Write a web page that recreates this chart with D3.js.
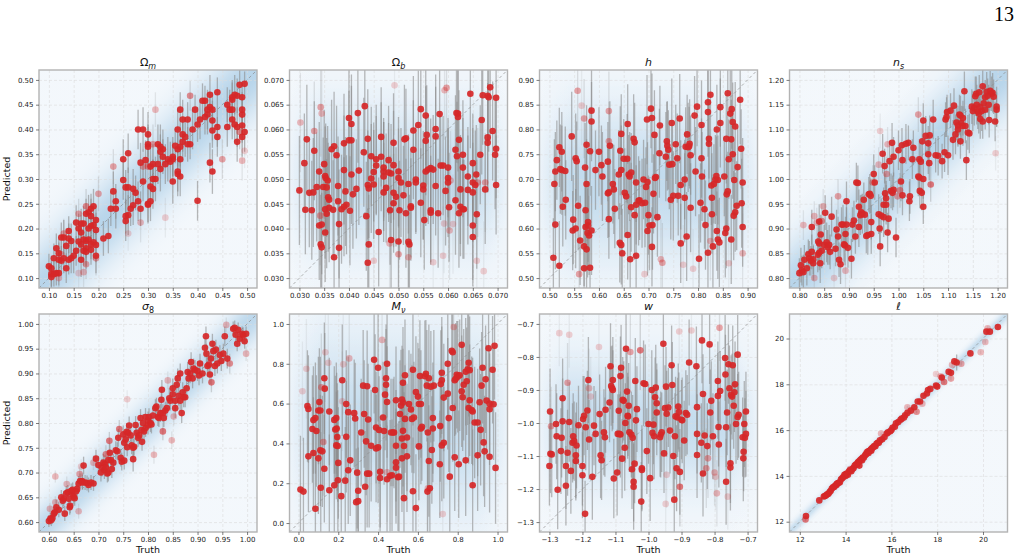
<!DOCTYPE html>
<html>
<head>
<meta charset="utf-8">
<script src="https://cdn.jsdelivr.net/npm/d3@7"></script>
<style>
  body { margin: 0; background: #fff; }
  svg { display: block; font-family: "DejaVu Sans", sans-serif; }
</style>
</head>
<body>
<div id="chart"></div>
<script>
// each point: [truth, predicted, error, alpha(optional)]
const omegaM = [
  [0.485,0.49,0.03],[0.495,0.492,0.025],[0.475,0.47,0.04],[0.48,0.468,0.035],[0.49,0.465,0.03],[0.47,0.46,0.04],[0.44,0.475,0.03],[0.425,0.47,0.04],[0.41,0.458,0.035],[0.415,0.458,0.03],
  [0.42,0.44,0.04],[0.43,0.44,0.035],[0.425,0.445,0.03],[0.42,0.43,0.04],[0.415,0.425,0.035],[0.405,0.42,0.04],[0.40,0.41,0.035],[0.39,0.40,0.04],[0.395,0.44,0.03],[0.365,0.44,0.035],
  [0.385,0.468,0.03,0.5],[0.37,0.42,0.04],[0.38,0.42,0.035],[0.36,0.40,0.04],[0.37,0.39,0.035],[0.375,0.385,0.04],[0.38,0.37,0.035],[0.385,0.37,0.03],[0.37,0.375,0.04],[0.36,0.36,0.035],
  [0.365,0.365,0.04],[0.355,0.367,0.035],[0.365,0.34,0.04],[0.36,0.31,0.045],[0.365,0.305,0.04],[0.36,0.315,0.04],[0.35,0.345,0.04],[0.35,0.34,0.035],[0.345,0.335,0.04],[0.34,0.34,0.045],
  [0.335,0.33,0.04],[0.33,0.345,0.035],[0.33,0.36,0.04],[0.325,0.365,0.045],[0.32,0.37,0.04],[0.325,0.355,0.035],[0.32,0.33,0.04],[0.325,0.32,0.045],[0.31,0.33,0.04],[0.305,0.325,0.04],
  [0.30,0.325,0.035,0.5],[0.31,0.30,0.04],[0.315,0.30,0.045],[0.31,0.28,0.04],[0.305,0.285,0.04],[0.30,0.39,0.045],[0.30,0.37,0.04],[0.30,0.365,0.04],[0.29,0.40,0.045],[0.28,0.40,0.04],
  [0.31,0.37,0.04,0.4],[0.315,0.44,0.035,0.3],[0.30,0.25,0.04],[0.305,0.255,0.04],[0.30,0.248,0.035],[0.35,0.295,0.045],[0.40,0.256,0.04],[0.425,0.333,0.04],[0.43,0.315,0.045],[0.44,0.385,0.04],
  [0.44,0.405,0.04],[0.43,0.398,0.035],[0.43,0.418,0.04],[0.46,0.45,0.035],[0.465,0.44,0.04],[0.47,0.44,0.035],[0.46,0.405,0.04],[0.47,0.42,0.04],[0.475,0.41,0.035],[0.48,0.405,0.04],
  [0.49,0.408,0.035],[0.49,0.43,0.04],[0.49,0.44,0.035],[0.495,0.395,0.04],[0.485,0.395,0.035,0.5],[0.49,0.385,0.04],[0.48,0.375,0.04],[0.45,0.34,0.04,0.4],[0.49,0.337,0.04,0.3],[0.495,0.357,0.035,0.2],
  [0.47,0.465,0.03],[0.25,0.34,0.04],[0.26,0.352,0.04],[0.25,0.298,0.04],[0.255,0.283,0.035],[0.26,0.283,0.04],[0.27,0.28,0.04],[0.275,0.272,0.035],[0.285,0.333,0.04],[0.28,0.255,0.04],
  [0.285,0.24,0.035],[0.27,0.247,0.04],[0.265,0.24,0.035],[0.26,0.227,0.04],[0.255,0.225,0.035],[0.255,0.215,0.04],[0.23,0.275,0.04],[0.235,0.255,0.035],[0.235,0.24,0.04],[0.225,0.24,0.035],
  [0.23,0.325,0.035,0.4],[0.285,0.212,0.04,0.3],[0.26,0.19,0.035,0.2],[0.335,0.222,0.04,0.2],[0.21,0.18,0.035],[0.22,0.185,0.035],[0.295,0.338,0.04],[0.29,0.295,0.04],[0.29,0.325,0.035,0.4],
  [0.20,0.27,0.035,0.4],[0.19,0.245,0.035],[0.185,0.24,0.03],[0.175,0.245,0.035,0.5],[0.18,0.233,0.035],[0.175,0.23,0.03],[0.185,0.225,0.035],[0.195,0.217,0.03],[0.195,0.197,0.035],[0.19,0.207,0.03],
  [0.185,0.205,0.035],[0.18,0.2,0.03],[0.17,0.21,0.035],[0.165,0.21,0.03],[0.155,0.212,0.035],[0.16,0.2,0.03],[0.165,0.192,0.035],[0.17,0.178,0.03],[0.175,0.175,0.035],[0.18,0.178,0.03],
  [0.19,0.172,0.035],[0.185,0.168,0.03],[0.195,0.167,0.035],[0.185,0.157,0.03],[0.175,0.16,0.035],[0.165,0.168,0.03],[0.16,0.174,0.035],[0.155,0.155,0.03],[0.15,0.145,0.035],[0.14,0.18,0.03],
  [0.145,0.175,0.035],[0.14,0.195,0.03],[0.13,0.182,0.035],[0.125,0.182,0.03],[0.135,0.165,0.035],[0.13,0.14,0.03],[0.125,0.135,0.03],[0.12,0.137,0.035],[0.115,0.16,0.03],[0.12,0.15,0.03],
  [0.11,0.14,0.03],[0.105,0.12,0.025],[0.1,0.124,0.025],[0.105,0.108,0.025],[0.11,0.108,0.025],[0.115,0.11,0.025],[0.12,0.11,0.025],[0.105,0.102,0.025],[0.135,0.12,0.03],[0.14,0.137,0.03],
  [0.145,0.14,0.03],[0.165,0.137,0.035],[0.17,0.155,0.03],[0.175,0.153,0.035],[0.195,0.145,0.035],[0.195,0.14,0.035,0.4],[0.175,0.128,0.03,0.4],[0.17,0.112,0.03,0.3],[0.16,0.11,0.03,0.2],[0.12,0.10,0.025,0.3],
  [0.125,0.148,0.03,0.4],[0.16,0.23,0.03,0.4],[0.13,0.19,0.03,0.4]
];

const omegaB = [
  [0.030,0.0477,0.011],[0.031,0.0532,0.010],[0.0315,0.058,0.011],[0.0312,0.0438,0.009],[0.032,0.0472,0.011],[0.0325,0.0437,0.010],[0.0328,0.0473,0.011],[0.033,0.0557,0.010],[0.033,0.0597,0.010,0.4],[0.0302,0.0614,0.010,0.3],
  [0.0335,0.0484,0.011],[0.034,0.0515,0.010],[0.034,0.0406,0.011],[0.0345,0.0408,0.010],[0.0343,0.0645,0.010,0.4],[0.0345,0.0632,0.010,0.3],[0.0342,0.0426,0.010,0.4],[0.0343,0.0368,0.010],[0.0345,0.0362,0.011],[0.0348,0.0484,0.010],
  [0.035,0.053,0.011],[0.0352,0.0506,0.010],[0.0353,0.0502,0.011],[0.0355,0.0483,0.010],[0.0357,0.0497,0.011],[0.0352,0.0439,0.010],[0.0355,0.043,0.011],[0.0352,0.0392,0.010],[0.0358,0.0463,0.011],[0.036,0.0458,0.010],
  [0.036,0.0442,0.011],[0.0365,0.056,0.010],[0.037,0.0566,0.011],[0.0368,0.0438,0.010],[0.037,0.0342,0.011],[0.0375,0.0548,0.010],[0.0378,0.0455,0.011],[0.0378,0.0486,0.010],[0.038,0.0409,0.011],[0.038,0.0361,0.010],
  [0.0385,0.0439,0.011],[0.039,0.0572,0.010],[0.039,0.0518,0.011],[0.039,0.0444,0.010],[0.0393,0.0475,0.011],[0.0395,0.0448,0.010],[0.040,0.0623,0.011],[0.040,0.0578,0.010],[0.0405,0.0578,0.011],[0.0405,0.0611,0.010],
  [0.0402,0.0436,0.011],[0.0405,0.0509,0.010],[0.0408,0.0469,0.011],[0.0418,0.0633,0.010],[0.042,0.0517,0.011],[0.0415,0.048,0.010],[0.043,0.0554,0.011],[0.0432,0.0647,0.010],[0.0435,0.0425,0.011],[0.0438,0.0581,0.010],
  [0.0438,0.0488,0.011],[0.044,0.0481,0.010],[0.0438,0.0331,0.011],[0.044,0.0368,0.010],[0.0445,0.0501,0.011],[0.0445,0.0546,0.010],[0.045,0.0489,0.011],[0.045,0.0514,0.010],[0.045,0.0335,0.010,0.2],[0.0455,0.054,0.011],
  [0.0455,0.0527,0.010],[0.046,0.0393,0.011],[0.0465,0.0585,0.010],[0.0465,0.0545,0.011],[0.047,0.0515,0.010],[0.047,0.0505,0.011],[0.047,0.0473,0.010],[0.0475,0.0482,0.011],[0.047,0.0523,0.010],[0.048,0.0538,0.011],
  [0.048,0.0513,0.010],[0.0483,0.0437,0.011],[0.0482,0.037,0.010,0.3],[0.0485,0.0511,0.010],[0.0485,0.0377,0.011],[0.049,0.0573,0.010],[0.049,0.0528,0.011],[0.049,0.0451,0.010],[0.049,0.0472,0.011],[0.0492,0.0689,0.010,0.2],
  [0.0495,0.0464,0.010],[0.050,0.0515,0.011],[0.050,0.0502,0.010],[0.050,0.0374,0.011],[0.0502,0.0437,0.010],[0.050,0.0348,0.010,0.4],[0.0505,0.0493,0.011],[0.051,0.0467,0.010],[0.0512,0.058,0.011],[0.0515,0.0582,0.010],
  [0.0515,0.0431,0.011],[0.052,0.049,0.010],[0.052,0.0373,0.011],[0.0522,0.0368,0.010],[0.052,0.0342,0.010,0.3],[0.0525,0.0445,0.011],[0.0525,0.0442,0.010],[0.053,0.0598,0.011],[0.053,0.0559,0.010],[0.0535,0.0499,0.011],
  [0.0535,0.0493,0.010],[0.054,0.0609,0.011],[0.0545,0.0641,0.010],[0.0545,0.0452,0.011],[0.055,0.0479,0.010],[0.055,0.0487,0.011],[0.0555,0.0628,0.010],[0.0555,0.0577,0.011],[0.0557,0.0589,0.010],[0.0555,0.0515,0.011],
  [0.0552,0.0417,0.010],[0.056,0.0519,0.011],[0.0565,0.0522,0.010],[0.0565,0.0437,0.011],[0.0565,0.0432,0.010],[0.057,0.0519,0.011],[0.057,0.0332,0.010,0.2],[0.0575,0.0586,0.010],[0.0575,0.0601,0.011],[0.0575,0.0486,0.010],
  [0.058,0.0431,0.011],[0.0583,0.0631,0.010],[0.0585,0.0527,0.011],[0.059,0.0527,0.010],[0.059,0.0345,0.010,0.2],[0.0592,0.041,0.010,0.2],[0.0593,0.0679,0.010,0.3],[0.0597,0.0684,0.010,0.4],[0.0595,0.0476,0.011],[0.060,0.0502,0.010],
  [0.060,0.0493,0.011],[0.060,0.0523,0.010],[0.0602,0.0443,0.011],[0.0605,0.0497,0.010,0.3],[0.0603,0.0396,0.010,0.3],[0.061,0.0409,0.010,0.2],[0.0615,0.0559,0.011],[0.0617,0.0633,0.010],[0.0618,0.0546,0.011],[0.062,0.0632,0.010],
  [0.062,0.0625,0.011],[0.0622,0.0579,0.010],[0.0622,0.0431,0.011],[0.0625,0.0444,0.010],[0.0625,0.0479,0.011],[0.063,0.0523,0.010],[0.063,0.0549,0.011],[0.063,0.0439,0.010],[0.0615,0.0457,0.011],[0.0632,0.0439,0.010],
  [0.064,0.0478,0.011],[0.064,0.0505,0.010],[0.0645,0.0672,0.011],[0.065,0.0532,0.010],[0.065,0.0493,0.011],[0.065,0.0473,0.010],[0.065,0.0406,0.011],[0.065,0.0383,0.010],[0.0655,0.0488,0.011],[0.0657,0.0509,0.010],
  [0.0658,0.0429,0.011],[0.0658,0.0335,0.010,0.2],[0.066,0.0493,0.011,0.4],[0.0665,0.0549,0.010],[0.0668,0.0619,0.011],[0.067,0.0669,0.010],[0.0672,0.0314,0.010,0.2],[0.0675,0.0479,0.011],[0.0675,0.0493,0.010,0.4],[0.068,0.0584,0.011],
  [0.068,0.0573,0.010],[0.0682,0.0665,0.011],[0.068,0.0668,0.010],[0.0685,0.0685,0.011],[0.069,0.0597,0.010],[0.0695,0.0549,0.011],[0.0697,0.0561,0.010],[0.0697,0.0664,0.011],[0.0697,0.0488,0.010]
];

const hubble = [
  [0.508,0.541,0.08],[0.51,0.69,0.09],[0.512,0.715,0.08],[0.512,0.608,0.09],[0.515,0.738,0.08],[0.52,0.525,0.09],[0.52,0.764,0.08],[0.522,0.72,0.09],[0.525,0.755,0.08],[0.525,0.718,0.09],
  [0.527,0.644,0.08],[0.532,0.716,0.09],[0.533,0.658,0.08],[0.545,0.786,0.09],[0.547,0.596,0.08],[0.548,0.618,0.09],[0.553,0.6,0.08],[0.553,0.742,0.09],[0.555,0.736,0.08],[0.557,0.878,0.08,0.4],
  [0.558,0.646,0.09],[0.56,0.508,0.08,0.4],[0.562,0.576,0.09],[0.565,0.848,0.08,0.2],[0.57,0.822,0.08,0.4],[0.57,0.52,0.09],[0.57,0.564,0.08],[0.572,0.723,0.09],[0.573,0.637,0.08],[0.573,0.603,0.09],
  [0.575,0.769,0.08],[0.575,0.69,0.09],[0.575,0.558,0.08],[0.577,0.591,0.09],[0.578,0.613,0.08],[0.578,0.606,0.09],[0.58,0.586,0.08],[0.582,0.756,0.09],[0.582,0.521,0.08],[0.585,0.838,0.09],
  [0.585,0.816,0.08],[0.585,0.596,0.09],[0.593,0.718,0.08],[0.6,0.755,0.09],[0.605,0.728,0.08],[0.607,0.705,0.09],[0.618,0.735,0.08],[0.618,0.671,0.09],[0.62,0.837,0.08,0.4],[0.62,0.776,0.08,0.4],
  [0.62,0.673,0.09],[0.62,0.619,0.08],[0.622,0.767,0.09],[0.628,0.69,0.08],[0.63,0.679,0.09],[0.632,0.64,0.08],[0.64,0.709,0.09],[0.642,0.571,0.08],[0.643,0.757,0.09],[0.645,0.567,0.08],
  [0.645,0.718,0.09],[0.645,0.791,0.08],[0.647,0.55,0.09],[0.65,0.741,0.08],[0.652,0.672,0.09],[0.655,0.665,0.08],[0.657,0.741,0.09],[0.658,0.811,0.08],[0.658,0.587,0.09],[0.66,0.709,0.08],
  [0.662,0.705,0.09],[0.663,0.538,0.08],[0.665,0.643,0.09],[0.665,0.713,0.08],[0.67,0.781,0.09],[0.672,0.774,0.08],[0.672,0.627,0.09],[0.675,0.648,0.08],[0.675,0.545,0.09],[0.675,0.693,0.08],
  [0.68,0.656,0.09],[0.682,0.657,0.08],[0.687,0.651,0.09],[0.69,0.699,0.08],[0.692,0.508,0.08,0.2],[0.693,0.652,0.09],[0.695,0.684,0.08],[0.697,0.82,0.09],[0.698,0.694,0.08],[0.698,0.595,0.09],
  [0.7,0.627,0.08],[0.702,0.606,0.09],[0.705,0.842,0.08],[0.707,0.823,0.09],[0.707,0.563,0.08],[0.708,0.607,0.09],[0.71,0.67,0.08],[0.712,0.789,0.09],[0.713,0.702,0.08],[0.715,0.704,0.09],
  [0.718,0.623,0.08],[0.722,0.752,0.09],[0.723,0.808,0.08],[0.725,0.538,0.08,0.3],[0.728,0.531,0.08,0.4],[0.735,0.745,0.09],[0.737,0.776,0.08],[0.738,0.767,0.09],[0.74,0.759,0.08],[0.742,0.729,0.09],
  [0.745,0.658,0.08],[0.747,0.813,0.09],[0.748,0.73,0.08],[0.75,0.666,0.09],[0.755,0.77,0.08],[0.758,0.742,0.09],[0.76,0.666,0.08],[0.763,0.822,0.09],[0.765,0.57,0.08],[0.765,0.688,0.09],
  [0.77,0.527,0.08,0.2],[0.773,0.699,0.08],[0.773,0.662,0.09],[0.775,0.765,0.08],[0.777,0.584,0.09],[0.778,0.79,0.08],[0.78,0.764,0.09],[0.782,0.766,0.08],[0.783,0.771,0.09],[0.785,0.748,0.08],
  [0.785,0.642,0.09],[0.79,0.519,0.08,0.2],[0.793,0.828,0.08],[0.795,0.715,0.09],[0.798,0.846,0.08],[0.802,0.539,0.09],[0.805,0.652,0.08],[0.807,0.809,0.09],[0.807,0.742,0.08],[0.808,0.705,0.09],
  [0.813,0.639,0.08],[0.815,0.607,0.09],[0.82,0.551,0.08],[0.82,0.835,0.09],[0.82,0.855,0.08],[0.822,0.771,0.09],[0.822,0.781,0.08],[0.825,0.87,0.09],[0.825,0.575,0.08,0.3],[0.827,0.687,0.08],
  [0.828,0.662,0.09],[0.828,0.629,0.08],[0.83,0.564,0.09],[0.832,0.69,0.08],[0.835,0.699,0.09],[0.837,0.706,0.08],[0.838,0.8,0.09],[0.838,0.595,0.08],[0.84,0.698,0.09],[0.84,0.578,0.08],
  [0.843,0.572,0.09],[0.845,0.845,0.08],[0.845,0.813,0.09],[0.853,0.705,0.08],[0.855,0.591,0.09],[0.857,0.6,0.08],[0.857,0.781,0.09],[0.858,0.669,0.08],[0.86,0.873,0.09],[0.86,0.675,0.08],
  [0.862,0.53,0.08,0.2],[0.862,0.74,0.08],[0.865,0.832,0.09],[0.867,0.78,0.08],[0.867,0.578,0.09],[0.868,0.841,0.08],[0.87,0.75,0.09],[0.87,0.815,0.08],[0.872,0.626,0.09],[0.873,0.698,0.08],
  [0.875,0.806,0.09],[0.875,0.633,0.08],[0.878,0.646,0.09],[0.88,0.724,0.08],[0.885,0.86,0.09],[0.887,0.761,0.08],[0.888,0.651,0.09],[0.89,0.603,0.08],[0.89,0.693,0.09],[0.89,0.55,0.08,0.3]
];

const nS = [
  [0.80,0.81,0.03],[0.803,0.826,0.035],[0.805,0.815,0.03],[0.808,0.812,0.035],[0.81,0.837,0.03],[0.815,0.82,0.035],[0.818,0.848,0.03],[0.82,0.84,0.035],[0.823,0.835,0.03],[0.825,0.853,0.035],
  [0.828,0.838,0.03],[0.828,0.83,0.035],[0.825,0.903,0.035],[0.808,0.907,0.03,0.3],[0.83,0.925,0.03,0.3],[0.835,0.912,0.03,0.3],[0.83,0.8,0.03,0.3],[0.837,0.847,0.035],[0.838,0.874,0.04],[0.84,0.851,0.035],
  [0.84,0.87,0.04],[0.84,0.914,0.035],[0.843,0.888,0.04],[0.845,0.855,0.035],[0.842,0.83,0.04],[0.845,0.915,0.035,0.5],[0.848,0.945,0.035,0.3],[0.85,0.867,0.04],[0.852,0.932,0.035],[0.855,0.872,0.04],
  [0.857,0.862,0.035],[0.86,0.867,0.04],[0.862,0.853,0.035],[0.865,0.924,0.04],[0.87,0.8,0.03,0.2],[0.873,0.859,0.035],[0.875,0.898,0.04],[0.878,0.965,0.035,0.4],[0.878,0.884,0.04],[0.88,0.837,0.035],
  [0.883,0.828,0.04],[0.885,0.908,0.035],[0.888,0.908,0.04],[0.89,0.868,0.035],[0.892,0.866,0.04],[0.893,0.889,0.035],[0.895,0.955,0.04],[0.895,0.908,0.035],[0.898,0.861,0.04],[0.893,0.815,0.035,0.3],
  [0.905,0.839,0.04],[0.907,0.908,0.035],[0.91,0.916,0.04],[0.913,0.884,0.035],[0.915,0.993,0.04],[0.918,0.992,0.035],[0.92,0.903,0.04],[0.92,0.944,0.035],[0.923,0.927,0.04],[0.925,0.933,0.035],
  [0.927,0.93,0.04],[0.93,0.958,0.035],[0.932,0.928,0.04],[0.935,0.885,0.035],[0.938,0.887,0.04],[0.94,0.969,0.035],[0.942,0.97,0.04],[0.944,0.966,0.035],[0.945,0.889,0.04],[0.945,0.913,0.035],
  [0.948,0.993,0.035,0.4],[0.95,1.01,0.04],[0.952,0.993,0.035],[0.96,1.029,0.035,0.3],[0.96,0.929,0.04],[0.962,0.9,0.035],[0.963,0.864,0.04],[0.965,0.926,0.035],[0.963,1.097,0.035,0.2],[0.968,1.051,0.04],
  [0.97,0.948,0.035],[0.97,0.923,0.04],[0.972,1.026,0.035],[0.973,0.971,0.04],[0.975,0.961,0.035],[0.975,0.948,0.04],[0.976,1.01,0.035,0.4],[0.978,0.892,0.04],[0.978,1.07,0.035,0.3],[0.98,0.92,0.035],
  [0.982,1.036,0.04],[0.985,0.976,0.035],[0.987,1.073,0.04],[0.988,0.972,0.035],[0.99,1.045,0.04],[0.99,0.978,0.035],[0.995,0.882,0.04],[0.998,0.965,0.035,0.4],[1.0,1.058,0.04],[1.003,0.977,0.035,0.5],
  [1.005,0.995,0.04],[1.007,1.068,0.035],[1.008,0.967,0.04],[1.008,1.038,0.035],[1.015,1.071,0.04],[1.02,1.073,0.035],[1.022,0.955,0.04],[1.023,0.965,0.035],[1.028,1.04,0.04],[1.03,1.063,0.035],
  [1.04,1.13,0.035,0.4],[1.04,1.005,0.04],[1.042,1.003,0.035],[1.042,1.04,0.04],[1.043,0.976,0.035],[1.045,1.035,0.04],[1.047,0.972,0.035],[1.048,1.076,0.04],[1.05,1.118,0.035],[1.05,1.0,0.04],
  [1.05,0.944,0.035],[1.055,1.087,0.04],[1.06,1.072,0.035],[1.06,1.05,0.04],[1.062,1.032,0.035],[1.063,1.088,0.04],[1.065,0.989,0.035,0.6],[1.07,1.12,0.04],[1.075,1.048,0.035],[1.08,1.047,0.04],
  [1.088,1.036,0.035],[1.093,1.054,0.04],[1.095,1.12,0.035],[1.097,1.125,0.04],[1.098,1.135,0.035],[1.1,1.048,0.04],[1.105,1.138,0.035],[1.11,1.079,0.04],[1.112,1.148,0.035],[1.115,1.09,0.04],
  [1.117,1.114,0.035],[1.12,1.108,0.04],[1.12,1.1,0.035],[1.123,1.13,0.04],[1.125,1.076,0.035],[1.125,1.128,0.04],[1.127,1.113,0.035],[1.13,1.107,0.04],[1.13,1.123,0.035],[1.133,1.177,0.04],
  [1.135,1.107,0.035],[1.137,1.038,0.04],[1.14,1.094,0.035],[1.143,1.092,0.04],[1.148,1.146,0.035],[1.15,1.137,0.04],[1.153,1.143,0.035],[1.155,1.167,0.04],[1.157,1.172,0.035],[1.158,1.15,0.04],
  [1.16,1.136,0.035],[1.162,1.132,0.04],[1.163,1.175,0.035],[1.165,1.121,0.04],[1.165,1.145,0.035],[1.168,1.137,0.04],[1.17,1.116,0.035],[1.17,1.187,0.04],[1.172,1.153,0.035],[1.175,1.14,0.04],
  [1.175,1.165,0.035],[1.178,1.176,0.04],[1.18,1.168,0.035],[1.182,1.15,0.04],[1.183,1.119,0.035],[1.185,1.178,0.04],[1.188,1.172,0.035],[1.19,1.174,0.04],[1.192,1.166,0.035],[1.195,1.116,0.04],
  [1.196,1.052,0.035,0.2],[1.198,1.146,0.04],[1.198,1.14,0.035]
];

const sigma8 = [
  [0.60,0.602,0.012],[0.603,0.607,0.012],[0.605,0.604,0.012],[0.607,0.608,0.012],[0.602,0.627,0.012,0.3],[0.61,0.617,0.012],[0.612,0.62,0.012],[0.613,0.64,0.012,0.3],[0.613,0.692,0.012,0.3],[0.615,0.63,0.015],
  [0.62,0.625,0.015],[0.625,0.65,0.015],[0.628,0.643,0.015],[0.63,0.647,0.015],[0.632,0.617,0.015],[0.635,0.658,0.015],[0.636,0.677,0.015,0.3],[0.638,0.66,0.015],[0.64,0.647,0.015],[0.642,0.63,0.015],
  [0.643,0.633,0.015],[0.645,0.663,0.015],[0.647,0.657,0.015],[0.648,0.665,0.015],[0.65,0.651,0.015],[0.652,0.648,0.015],[0.655,0.662,0.015],[0.657,0.667,0.015],[0.66,0.678,0.015],[0.66,0.622,0.015,0.3],
  [0.662,0.697,0.015,0.4],[0.663,0.683,0.015],[0.665,0.712,0.015,0.2],[0.667,0.683,0.015],[0.668,0.68,0.015],[0.67,0.714,0.018],[0.673,0.68,0.015],[0.677,0.679,0.015],[0.68,0.675,0.015],[0.685,0.68,0.015],
  [0.69,0.678,0.015],[0.69,0.72,0.015,0.3],[0.695,0.728,0.018],[0.7,0.715,0.018],[0.705,0.7,0.018],[0.707,0.71,0.018],[0.71,0.72,0.018],[0.712,0.705,0.018],[0.713,0.717,0.018],[0.715,0.737,0.018,0.5],
  [0.715,0.71,0.018],[0.718,0.698,0.018],[0.72,0.7,0.018],[0.72,0.725,0.018],[0.722,0.764,0.018,0.6],[0.723,0.74,0.018],[0.725,0.725,0.018],[0.727,0.707,0.018],[0.73,0.72,0.018],[0.735,0.745,0.018],
  [0.738,0.743,0.018],[0.74,0.77,0.018],[0.742,0.788,0.018,0.6],[0.745,0.73,0.018],[0.747,0.722,0.018],[0.75,0.777,0.018],[0.752,0.76,0.018],[0.752,0.724,0.018],[0.755,0.767,0.018],[0.757,0.782,0.018],
  [0.758,0.848,0.018,0.2],[0.758,0.751,0.018],[0.76,0.78,0.018],[0.762,0.795,0.018],[0.765,0.775,0.018],[0.767,0.755,0.018],[0.77,0.75,0.018],[0.77,0.727,0.025],[0.772,0.752,0.018],[0.775,0.796,0.018],
  [0.777,0.78,0.018],[0.78,0.77,0.018],[0.782,0.775,0.018],[0.785,0.81,0.018],[0.787,0.786,0.018],[0.788,0.762,0.018],[0.79,0.8,0.018],[0.792,0.783,0.018],[0.795,0.812,0.018],[0.795,0.79,0.018],
  [0.8,0.805,0.018],[0.8,0.795,0.018],[0.802,0.812,0.018],[0.805,0.8,0.018],[0.807,0.797,0.018],[0.81,0.815,0.018],[0.812,0.736,0.018,0.3],[0.815,0.83,0.018],[0.817,0.833,0.018],[0.82,0.812,0.018],
  [0.822,0.81,0.018],[0.825,0.82,0.018],[0.827,0.847,0.018],[0.828,0.867,0.02],[0.83,0.82,0.018],[0.83,0.783,0.018,0.6],[0.832,0.81,0.018],[0.835,0.825,0.018],[0.838,0.83,0.018],[0.84,0.886,0.018,0.3],
  [0.843,0.85,0.02],[0.845,0.845,0.02],[0.848,0.765,0.018,0.3],[0.85,0.87,0.02],[0.85,0.858,0.02],[0.852,0.813,0.018,0.3],[0.855,0.845,0.02],[0.855,0.83,0.02],[0.858,0.877,0.02],[0.86,0.89,0.02],
  [0.862,0.855,0.02],[0.865,0.845,0.02],[0.865,0.9,0.02],[0.868,0.82,0.02],[0.87,0.862,0.02],[0.872,0.852,0.02],[0.875,0.852,0.02],[0.878,0.87,0.02],[0.88,0.903,0.02],[0.882,0.89,0.02],
  [0.885,0.9,0.02],[0.887,0.923,0.02],[0.89,0.89,0.02],[0.892,0.91,0.02],[0.895,0.907,0.02],[0.9,0.905,0.02],[0.903,0.896,0.02],[0.905,0.92,0.02],[0.91,0.9,0.02],[0.915,0.952,0.02],
  [0.917,0.975,0.02],[0.918,0.94,0.02],[0.92,0.915,0.02],[0.923,0.918,0.02],[0.925,0.898,0.02],[0.927,0.93,0.02],[0.928,0.882,0.02,0.6],[0.93,0.96,0.02],[0.932,0.945,0.02],[0.935,0.915,0.02],
  [0.937,0.948,0.02],[0.94,0.92,0.02],[0.945,0.937,0.02],[0.948,0.925,0.02],[0.952,0.94,0.02],[0.955,0.975,0.02],[0.958,0.998,0.015,0.3],[0.96,0.93,0.02],[0.965,0.92,0.02,0.5],[0.972,0.99,0.015],
  [0.975,0.992,0.015],[0.977,0.978,0.015],[0.98,0.96,0.015],[0.982,0.988,0.015],[0.985,0.97,0.015],[0.99,0.98,0.015],[0.992,0.977,0.015],[0.995,0.965,0.015],[0.998,0.98,0.015],[0.998,0.94,0.015,0.3]
];

const mNu = [
  [0.01,0.168,0.27],[0.02,0.662,0.25,0.2],[0.025,0.158,0.27],[0.045,0.588,0.28],[0.05,0.573,0.27],[0.05,0.335,0.28],[0.04,0.775,0.25,0.2],[0.07,0.472,0.27],[0.075,0.352,0.28],[0.075,0.517,0.27],
  [0.085,0.527,0.28],[0.085,0.072,0.27],[0.09,0.462,0.28],[0.1,0.565,0.27],[0.1,0.325,0.28],[0.105,0.608,0.27],[0.11,0.365,0.28],[0.11,0.565,0.27],[0.112,0.177,0.28],[0.115,0.682,0.27,0.4],
  [0.12,0.36,0.28],[0.125,0.407,0.27,0.4],[0.13,0.727,0.28],[0.13,0.273,0.27],[0.132,0.675,0.28],[0.135,0.858,0.25,0.2],[0.15,0.805,0.25,0.2],[0.155,0.56,0.27],[0.155,0.165,0.28],[0.18,0.518,0.27],
  [0.18,0.19,0.28],[0.185,0.47,0.27],[0.19,0.527,0.28],[0.19,0.39,0.27],[0.192,0.475,0.28],[0.195,0.432,0.27],[0.197,0.387,0.28],[0.198,0.215,0.27],[0.2,0.302,0.28],[0.215,0.135,0.27],
  [0.22,0.717,0.28],[0.22,0.612,0.25,0.2],[0.225,0.797,0.25,0.2],[0.235,0.213,0.27],[0.24,0.433,0.28],[0.24,0.598,0.27],[0.25,0.557,0.28],[0.25,0.265,0.27],[0.255,0.827,0.25,0.3],[0.26,0.315,0.28],
  [0.28,0.552,0.27],[0.285,0.525,0.28],[0.29,0.105,0.27],[0.295,0.253,0.28],[0.3,0.11,0.27],[0.3,0.162,0.28],[0.315,0.455,0.27],[0.325,0.69,0.28],[0.33,0.548,0.27],[0.335,0.182,0.28],
  [0.34,0.41,0.27],[0.345,0.687,0.28],[0.345,0.248,0.27],[0.35,0.52,0.28],[0.355,0.248,0.27],[0.365,0.388,0.28],[0.38,0.82,0.27],[0.385,0.668,0.28],[0.39,0.375,0.27],[0.39,0.48,0.28],
  [0.4,0.78,0.27],[0.4,0.38,0.28],[0.405,0.467,0.27],[0.41,0.258,0.28],[0.41,0.226,0.27],[0.42,0.92,0.25,0.3],[0.425,0.53,0.28],[0.43,0.462,0.27],[0.435,0.645,0.28],[0.44,0.727,0.27],
  [0.44,0.695,0.28],[0.445,0.255,0.25,0.3],[0.445,0.8,0.27],[0.445,0.608,0.28],[0.445,0.22,0.27],[0.46,0.237,0.28],[0.465,0.455,0.27],[0.47,0.24,0.28],[0.475,0.455,0.27],[0.48,0.455,0.28],
  [0.49,0.617,0.27],[0.49,0.388,0.28],[0.49,0.305,0.27],[0.49,0.278,0.28],[0.5,0.23,0.27],[0.505,0.233,0.28],[0.51,0.548,0.27],[0.515,0.59,0.28],[0.52,0.62,0.27],[0.52,0.425,0.28],
  [0.52,0.325,0.27],[0.525,0.705,0.28],[0.525,0.605,0.27],[0.525,0.463,0.28],[0.53,0.387,0.27],[0.53,0.125,0.28],[0.535,0.523,0.27],[0.535,0.742,0.28],[0.545,0.43,0.27],[0.545,0.335,0.28],
  [0.555,0.598,0.27],[0.565,0.57,0.28],[0.57,0.523,0.27],[0.575,0.77,0.28],[0.575,0.16,0.27],[0.58,0.53,0.28],[0.59,0.075,0.27],[0.59,0.658,0.28],[0.6,0.635,0.27],[0.605,0.598,0.28],
  [0.605,0.385,0.27],[0.61,0.738,0.28],[0.615,0.598,0.27],[0.615,0.475,0.28],[0.62,0.483,0.27],[0.635,0.737,0.28],[0.64,0.75,0.27],[0.645,0.69,0.28],[0.648,0.158,0.27],[0.65,0.175,0.25,0.3],
  [0.65,0.455,0.28],[0.655,0.727,0.27],[0.655,0.312,0.28],[0.66,0.175,0.27],[0.665,0.685,0.28],[0.67,0.367,0.27],[0.675,0.527,0.28],[0.675,0.475,0.27],[0.68,0.69,0.28],[0.71,0.295,0.27],
  [0.712,0.487,0.28],[0.715,0.698,0.27],[0.72,0.755,0.28],[0.72,0.717,0.27],[0.72,0.39,0.28],[0.725,0.045,0.25,0.2],[0.73,0.63,0.27],[0.73,0.403,0.28],[0.75,0.8,0.27],[0.75,0.65,0.28],
  [0.755,0.527,0.27],[0.76,0.233,0.28],[0.77,0.865,0.27],[0.775,0.858,0.28],[0.775,0.578,0.27],[0.78,0.985,0.25,0.3],[0.785,0.717,0.28],[0.785,0.33,0.27],[0.79,0.725,0.28],[0.795,0.745,0.27],
  [0.8,0.735,0.28],[0.805,0.295,0.27],[0.81,0.742,0.28],[0.82,0.895,0.27],[0.82,0.662,0.28],[0.825,0.632,0.27],[0.83,0.695,0.28],[0.84,0.76,0.27],[0.84,0.315,0.28],[0.845,0.712,0.27],
  [0.85,0.772,0.28],[0.855,0.805,0.27],[0.855,0.578,0.28],[0.86,0.768,0.27],[0.86,0.617,0.28],[0.87,0.567,0.27],[0.875,0.19,0.28],[0.875,0.56,0.27],[0.885,0.505,0.28],[0.9,0.505,0.27],
  [0.9,0.34,0.28],[0.91,0.607,0.27],[0.915,0.468,0.28],[0.92,0.69,0.27],[0.925,0.78,0.28],[0.93,0.405,0.27],[0.935,0.36,0.28],[0.94,0.722,0.27],[0.945,0.615,0.28],[0.955,0.878,0.27],
  [0.96,0.572,0.28],[0.96,0.6,0.27],[0.96,0.333,0.28],[0.975,0.77,0.27],[0.98,0.597,0.28],[0.985,0.89,0.27],[0.99,0.277,0.28]
];

const wDE = [
  [-1.3,-1.13,0.12],[-1.298,-0.965,0.13],[-1.297,-1.093,0.12],[-1.295,-1.01,0.12,0.4],[-1.293,-1.095,0.13],[-1.28,-1.003,0.12],[-1.278,-1.04,0.13],[-1.275,-1.202,0.12],[-1.27,-0.728,0.1,0.2],[-1.265,-1.085,0.13],
  [-1.263,-1.045,0.12],[-1.26,-0.995,0.13],[-1.26,-0.925,0.12],[-1.25,-1.13,0.13],[-1.25,-1.19,0.12],[-1.245,-0.878,0.12,0.4],[-1.245,-1.09,0.13],[-1.24,-0.733,0.1,0.2],[-1.24,-0.997,0.12],[-1.235,-1.145,0.13],
  [-1.23,-1.06,0.12],[-1.228,-1.04,0.13],[-1.225,-1.055,0.12],[-1.22,-1.098,0.13],[-1.22,-1.115,0.12],[-1.218,-1.068,0.13],[-1.212,-1.007,0.12],[-1.2,-1.158,0.13],[-1.2,-1.13,0.12],[-1.198,-0.988,0.13],
  [-1.195,-0.978,0.12],[-1.192,-1.275,0.1],[-1.19,-1.013,0.13],[-1.185,-0.962,0.12],[-1.182,-0.87,0.13],[-1.18,-0.895,0.12,0.3],[-1.18,-1.05,0.12],[-1.175,-0.92,0.12,0.2],[-1.17,-1.163,0.13],[-1.165,-1.008,0.12],
  [-1.16,-1.033,0.13],[-1.15,-0.77,0.1,0.2],[-1.148,-0.973,0.12],[-1.145,-1.098,0.13],[-1.142,-1.113,0.12],[-1.135,-1.028,0.13],[-1.132,-1.043,0.12],[-1.13,-0.96,0.13],[-1.118,-0.938,0.12],[-1.115,-0.828,0.13],
  [-1.113,-0.888,0.12],[-1.11,-0.895,0.13],[-1.108,-0.9,0.12],[-1.108,-0.87,0.13],[-1.105,-1.168,0.12],[-1.095,-1.15,0.13],[-1.093,-1.033,0.12],[-1.09,-0.963,0.13],[-1.088,-1.033,0.12],[-1.085,-1.035,0.13],
  [-1.085,-0.858,0.12],[-1.083,-0.833,0.13],[-1.08,-1.108,0.12],[-1.078,-0.93,0.13],[-1.075,-0.933,0.12],[-1.072,-1.075,0.13],[-1.07,-1.0,0.12],[-1.068,-0.775,0.13],[-1.065,-0.905,0.12],[-1.063,-0.978,0.13],
  [-1.062,-0.98,0.12],[-1.06,-0.948,0.13],[-1.058,-1.028,0.12],[-1.055,-0.785,0.12,0.4],[-1.052,-1.035,0.13],[-1.05,-1.14,0.12],[-1.048,-1.045,0.13],[-1.045,-1.178,0.12],[-1.045,-1.193,0.13],[-1.042,-1.123,0.12],
  [-1.04,-0.873,0.13],[-1.038,-0.992,0.12],[-1.035,-0.958,0.13],[-1.025,-0.78,0.12,0.6],[-1.022,-1.238,0.12],[-1.02,-1.137,0.13],[-1.02,-1.142,0.12],[-1.015,-0.88,0.13],[-1.01,-0.882,0.12],[-1.005,-1.085,0.13],
  [-1.0,-1.003,0.12],[-0.995,-1.167,0.13],[-0.99,-0.9,0.12],[-0.988,-1.03,0.13],[-0.985,-1.005,0.12],[-0.983,-1.04,0.13],[-0.98,-0.922,0.12],[-0.978,-0.893,0.13],[-0.975,-0.94,0.12],[-0.975,-0.968,0.13],
  [-0.965,-1.043,0.12],[-0.963,-1.035,0.13],[-0.96,-1.028,0.12],[-0.955,-0.76,0.13],[-0.953,-1.092,0.12],[-0.95,-0.955,0.13],[-0.948,-1.245,0.1,0.2],[-0.947,-0.89,0.12],[-0.945,-0.972,0.13],[-0.945,-1.157,0.1,0.2],
  [-0.94,-0.953,0.12],[-0.935,-1.023,0.13],[-0.93,-0.825,0.12],[-0.928,-0.885,0.13],[-0.925,-1.1,0.12],[-0.922,-1.232,0.12],[-0.92,-1.04,0.13],[-0.918,-0.98,0.12],[-0.915,-1.137,0.13],[-0.912,-0.983,0.12],
  [-0.91,-0.95,0.13],[-0.908,-0.967,0.12],[-0.907,-0.723,0.1,0.2],[-0.905,-1.193,0.12,0.6],[-0.905,-1.148,0.13],[-0.9,-0.99,0.12],[-0.898,-0.992,0.13],[-0.892,-1.053,0.12],[-0.887,-0.97,0.13],[-0.883,-0.975,0.12],
  [-0.877,-0.817,0.13],[-0.87,-0.72,0.1,0.2],[-0.855,-0.828,0.12],[-0.853,-0.952,0.13],[-0.853,-1.033,0.12],[-0.853,-1.097,0.13],[-0.84,-1.06,0.12],[-0.838,-0.75,0.13],[-0.835,-0.912,0.12],[-0.835,-1.153,0.13],
  [-0.83,-1.038,0.12],[-0.825,-1.137,0.12,0.4],[-0.822,-1.07,0.13],[-0.82,-1.107,0.12,0.4],[-0.815,-0.762,0.12],[-0.813,-0.968,0.13],[-0.81,-0.933,0.12],[-0.805,-1.04,0.13],[-0.8,-1.15,0.1,0.3],[-0.797,-1.163,0.1,0.2],
  [-0.793,-1.213,0.1,0.3],[-0.79,-0.873,0.12],[-0.79,-0.918,0.13],[-0.788,-1.012,0.12],[-0.787,-1.065,0.13],[-0.785,-0.712,0.1,0.4],[-0.783,-0.903,0.12],[-0.768,-0.803,0.13],[-0.767,-0.853,0.12],[-0.765,-1.178,0.13],
  [-0.765,-1.013,0.12],[-0.762,-0.968,0.13],[-0.758,-0.822,0.12],[-0.755,-0.895,0.13],[-0.752,-1.122,0.12],[-0.752,-1.135,0.13],[-0.75,-0.915,0.12],[-0.747,-0.92,0.13],[-0.745,-0.825,0.12],[-0.742,-0.948,0.13],
  [-0.74,-0.907,0.12],[-0.738,-0.883,0.13],[-0.735,-1.003,0.12],[-0.73,-0.982,0.13],[-0.73,-0.793,0.12],[-0.727,-0.975,0.13],[-0.715,-1.043,0.12],[-0.713,-1.107,0.13],[-0.712,-1.087,0.12],[-0.71,-1.003,0.13],
  [-0.708,-1.045,0.12],[-0.705,-1.033,0.13],[-0.705,-0.965,0.12],[-0.76,-1.223,0.1,0.2]
];

const ell = [
  [12.27,12.25,0.08],[12.25,12.1,0.08,0.6],[12.85,12.93,0.08],[13.05,13.1,0.06],[13.1,13.12,0.06],[13.15,13.15,0.06],[13.2,13.2,0.06],[13.25,13.22,0.06],[13.3,13.3,0.06],[13.35,13.35,0.06],
  [13.4,13.45,0.06],[13.45,13.5,0.06],[13.5,13.52,0.06],[13.55,13.58,0.06],[13.6,13.6,0.06],[13.62,13.66,0.06],[13.65,13.68,0.06],[13.7,13.7,0.06],[13.75,13.72,0.06],[13.8,13.85,0.06],
  [13.85,13.9,0.06],[13.9,13.95,0.06],[13.95,14.05,0.06],[14.0,14.0,0.06],[14.02,14.08,0.06],[14.05,14.1,0.06],[14.1,14.05,0.06],[14.15,14.2,0.06],[14.2,14.25,0.06],[14.2,14.3,0.06,0.4],
  [14.25,14.2,0.06],[14.3,14.3,0.06],[14.35,14.35,0.06],[14.4,14.45,0.06],[14.45,14.5,0.06],[14.5,14.5,0.06],[14.52,14.56,0.06],[14.55,14.6,0.06],[14.6,14.65,0.06],[14.6,14.45,0.06],
  [14.65,14.7,0.06],[14.7,14.75,0.06],[14.72,14.68,0.06],[14.75,14.8,0.06],[14.8,14.8,0.06],[14.85,14.9,0.06],[14.9,14.95,0.06],[14.9,15.0,0.06,0.4],[14.95,15.05,0.06],[15.0,15.0,0.06],
  [15.02,15.08,0.06],[15.05,15.1,0.06],[15.1,15.15,0.06],[15.12,15.1,0.06],[15.15,15.2,0.06],[15.2,15.25,0.06],[15.25,15.3,0.06],[15.3,15.3,0.06],[15.35,15.4,0.06],[15.4,15.45,0.06],
  [15.45,15.45,0.06],[15.5,15.55,0.06],[15.55,15.85,0.06,0.3],[15.6,15.6,0.06],[15.7,15.7,0.06],[15.8,15.85,0.06],[15.85,15.9,0.06],[15.95,15.95,0.06],[16.0,16.0,0.06],[16.05,16.1,0.06],
  [16.15,16.15,0.06],[16.2,16.3,0.06],[16.3,16.35,0.06],[16.4,16.45,0.06],[16.45,16.5,0.06],[16.55,16.55,0.06],[16.6,16.65,0.06],[16.7,16.75,0.06],[16.7,17.0,0.06,0.3],[16.85,16.85,0.06],
  [17.0,17.0,0.06],[17.1,16.8,0.06,0.5],[17.15,17.25,0.06],[17.25,17.25,0.06],[17.35,17.15,0.06,0.3],[17.4,17.5,0.06],[17.55,17.6,0.06],[17.6,17.75,0.06],[17.7,17.8,0.06],[17.95,17.95,0.06],
  [17.95,18.45,0.06,0.2],[18.0,17.9,0.06],[18.15,18.35,0.06,0.3],[18.2,18.3,0.08],[18.3,18.1,0.08,0.6],[18.5,18.55,0.08],[18.6,18.5,0.08],[18.6,18.25,0.08,0.4],[18.65,18.85,0.08,0.3],[18.75,19.0,0.08],
  [18.85,18.95,0.35],[19.05,18.9,0.08,0.4],[19.45,19.35,0.08],[19.9,19.4,0.08,0.3],[20.1,19.85,0.08,0.3],[20.15,20.3,0.08],[20.2,20.45,0.08,0.3],[20.3,20.3,0.08],[20.65,20.5,0.08]
];

const mxTicks = [0.10, 0.15, 0.20, 0.25, 0.30, 0.35, 0.40, 0.45, 0.50];
const bTicks = [0.030, 0.035, 0.040, 0.045, 0.050, 0.055, 0.060, 0.065, 0.070];
const hTicks = [0.50, 0.55, 0.60, 0.65, 0.70, 0.75, 0.80, 0.85, 0.90];
const nsTicks = [0.80, 0.85, 0.90, 0.95, 1.00, 1.05, 1.10, 1.15, 1.20];
const s8Ticks = [0.60, 0.65, 0.70, 0.75, 0.80, 0.85, 0.90, 0.95, 1.00];
const nuTicks = [0.0, 0.2, 0.4, 0.6, 0.8, 1.0];
const wTicks = [-1.3, -1.2, -1.1, -1.0, -0.9, -0.8, -0.7];
const ellTicks = [12, 14, 16, 18, 20];

// title parts: [text, italic, sub]
const panels = [
  {data: omegaM, title: [["Ω",0,0],["m",1,1]], dom: [0.08, 0.52], ticks: mxTicks, fmt: ".2f", band: {diag: true, s: 0.06, op: 0.55}},
  {data: omegaB, title: [["Ω",0,0],["b",1,1]], dom: [0.028, 0.072], ticks: bTicks, fmt: ".3f", band: {diag: false, c: 0.050, s: 0.0095, op: 0.42}},
  {data: hubble, title: [["h",1,0]], dom: [0.48, 0.92], ticks: hTicks, fmt: ".2f", band: {diag: false, c: 0.69, s: 0.1, op: 0.45}},
  {data: nS, title: [["n",1,0],["s",1,1]], dom: [0.78, 1.22], ticks: nsTicks, fmt: ".2f", band: {diag: true, s: 0.06, op: 0.55}},
  {data: sigma8, title: [["σ",1,0],["8",0,1]], dom: [0.58, 1.02], ticks: s8Ticks, fmt: ".2f", band: {diag: true, s: 0.035, op: 0.5}},
  {data: mNu, title: [["M",1,0],["ν",1,1]], dom: [-0.045, 1.05], ticks: nuTicks, fmt: ".1f", band: {diag: false, c: 0.5, s: 0.3, op: 0.42}},
  {data: wDE, title: [["w",1,0]], dom: [-1.33, -0.67], ticks: wTicks, fmt: ".1f", band: {diag: false, c: -1.0, s: 0.13, op: 0.42}},
  {data: ell, title: [["ℓ",1,0]], dom: [11.55, 21.07], ticks: ellTicks, fmt: "d", band: {diag: true, s: 0.2, op: 0.4}}
];

const W = 1021, H = 560;
const colX = [39, 289.5, 539.5, 789.5];
const rowY = [70, 314];
const size = 218;

const svg = d3.select("#chart").append("svg")
    .attr("width", W)
    .attr("height", H);

const defs = svg.append("defs");

svg.append("text")
    .attr("x", 1014)
    .attr("y", 21)
    .attr("text-anchor", "end")
    .style("font-family", "'Liberation Serif', 'DejaVu Serif', serif")
    .style("font-size", "20px")
    .text("13");

panels.forEach((p, i) => {
    const col = i % 4, row = Math.floor(i / 4);
    const g = svg.append("g").attr("transform", `translate(${colX[col]},${rowY[row]})`);

    const x = d3.scaleLinear().domain(p.dom).range([0, size]);
    const y = d3.scaleLinear().domain(p.dom).range([size, 0]);

    // clip + background
    defs.append("clipPath").attr("id", "clip" + i)
        .append("rect").attr("width", size).attr("height", size);

    g.append("rect").attr("width", size).attr("height", size).attr("fill", "#f4f8fc");

    // density band (gaussian falloff built from stops)
    const gid = "band" + i;
    const grad = defs.append("linearGradient").attr("id", gid).attr("gradientUnits", "userSpaceOnUse");
    if (p.band.diag) {
        const sp = (y(p.dom[0]) - y(p.dom[0] + p.band.s)) / Math.SQRT2;
        const k = 3 * sp / Math.SQRT2;
        grad.attr("x1", size / 2 - k).attr("y1", size / 2 - k)
            .attr("x2", size / 2 + k).attr("y2", size / 2 + k);
    } else {
        const sp = y(p.dom[0]) - y(p.dom[0] + p.band.s);
        const cy = y(p.band.c);
        grad.attr("x1", 0).attr("y1", cy - 3 * sp).attr("x2", 0).attr("y2", cy + 3 * sp);
    }
    d3.range(0, 1.0001, 0.05).forEach(o => {
        const u = (o - 0.5) * 6;
        grad.append("stop").attr("offset", o)
            .attr("stop-color", "#86b8dc")
            .attr("stop-opacity", p.band.op * Math.exp(-u * u / 2));
    });
    g.append("rect").attr("width", size).attr("height", size)
        .attr("fill", `url(#${gid})`);
    if (!p.band.diag) {
        // soften the band towards the left/right edges
        const eid = "edge" + i;
        const eg = defs.append("linearGradient").attr("id", eid);
        eg.append("stop").attr("offset", 0).attr("stop-color", "#f4f8fc").attr("stop-opacity", 0.85);
        eg.append("stop").attr("offset", 0.14).attr("stop-color", "#f4f8fc").attr("stop-opacity", 0);
        eg.append("stop").attr("offset", 0.86).attr("stop-color", "#f4f8fc").attr("stop-opacity", 0);
        eg.append("stop").attr("offset", 1).attr("stop-color", "#f4f8fc").attr("stop-opacity", 0.85);
        g.append("rect").attr("width", size).attr("height", size).attr("fill", `url(#${eid})`);
    }

    // grid
    g.append("g").attr("class", "grid")
        .attr("transform", `translate(0,${size})`)
        .call(d3.axisBottom(x).tickValues(p.ticks).tickSize(-size).tickFormat(""))
        .call(s => s.select(".domain").remove());
    g.append("g").attr("class", "grid")
        .call(d3.axisLeft(y).tickValues(p.ticks).tickSize(-size).tickFormat(""))
        .call(s => s.select(".domain").remove());
    g.selectAll(".grid line")
        .attr("stroke", "#dcdcdc")
        .attr("stroke-width", 0.6)
        .attr("stroke-dasharray", "3,2");

    const plot = g.append("g").attr("clip-path", `url(#clip${i})`);

    // 1:1 line
    plot.append("line")
        .attr("x1", x(p.dom[0])).attr("y1", y(p.dom[0]))
        .attr("x2", x(p.dom[1])).attr("y2", y(p.dom[1]))
        .attr("stroke", "#888")
        .attr("stroke-width", 0.8)
        .attr("stroke-dasharray", "3,2.5")
        .attr("opacity", 0.8);

    // error bars
    plot.selectAll(".err")
        .data(p.data)
        .enter()
        .append("line")
        .attr("class", "err")
        .attr("x1", d => x(d[0])).attr("x2", d => x(d[0]))
        .attr("y1", d => y(d[1] - d[2])).attr("y2", d => y(d[1] + d[2]))
        .attr("stroke", "#8c8c8c")
        .attr("stroke-width", 1.3)
        .attr("stroke-opacity", d => 0.6 * (d[3] === undefined ? 1 : d[3]));

    // points
    plot.selectAll(".pt")
        .data(p.data)
        .enter()
        .append("circle")
        .attr("class", "pt")
        .attr("cx", d => x(d[0]))
        .attr("cy", d => y(d[1]))
        .attr("r", 3.3)
        .attr("fill", "#d62728")
        .attr("fill-opacity", d => d[3] === undefined ? 0.92 : d[3]);

    // frame
    g.append("rect").attr("width", size).attr("height", size)
        .attr("fill", "none")
        .attr("stroke", "#b3b3b3")
        .attr("stroke-width", 1.4);

    // axes
    const fmt = d3.format(p.fmt);
    const xa = g.append("g").attr("transform", `translate(0,${size})`)
        .call(d3.axisBottom(x).tickValues(p.ticks).tickSize(3).tickPadding(2.5).tickFormat(fmt));
    const ya = g.append("g")
        .call(d3.axisLeft(y).tickValues(p.ticks).tickSize(3).tickPadding(2.5).tickFormat(fmt));
    [xa, ya].forEach(a => {
        a.select(".domain").remove();
        a.selectAll("line").attr("stroke", "#444").attr("stroke-width", 0.7);
        a.selectAll("text")
            .attr("fill", "#222")
            .style("font-size", "7px")
            .style("font-family", "'DejaVu Sans', sans-serif");
    });

    // title
    const t = g.append("text")
        .attr("x", size / 2)
        .attr("y", -4)
        .attr("text-anchor", "middle")
        .style("font-size", "11px")
        .attr("fill", "#111");
    p.title.forEach(part => {
        const ts = t.append("tspan").text(part[0]);
        if (part[1]) ts.style("font-style", "italic");
        if (part[2]) ts.attr("dy", 2.5).style("font-size", "8px");
    });

    if (col === 0) {
        g.append("text")
            .attr("transform", `translate(-29,${size / 2}) rotate(-90)`)
            .attr("text-anchor", "middle")
            .style("font-size", "9.5px")
            .attr("fill", "#111")
            .text("Predicted");
    }
    if (row === 1) {
        g.append("text")
            .attr("x", size / 2)
            .attr("y", size + 21)
            .attr("text-anchor", "middle")
            .style("font-size", "9.5px")
            .attr("fill", "#111")
            .text("Truth");
    }
});
</script>
</body>
</html>
